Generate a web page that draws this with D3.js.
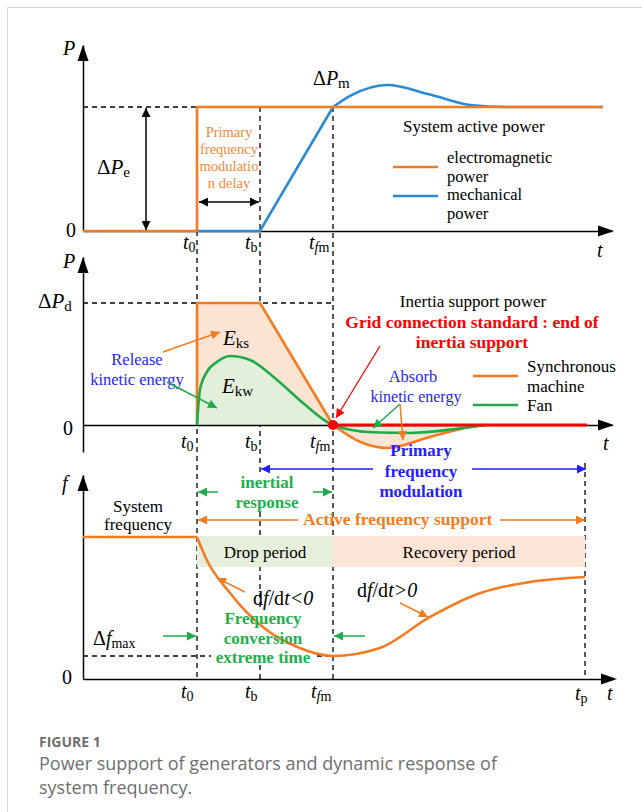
<!DOCTYPE html>
<html lang="en">
<head>
  <meta charset="utf-8">
  <title>Power support and frequency response</title>
  <script src="https://d3js.org/d3.v7.min.js"></script>
  <style>
    body { margin: 0; background: #fff; }
    svg text { font-family: "Liberation Serif", "Times New Roman", serif; }
    .cap { font-family: "Open Sans", "Noto Sans", sans-serif !important; }
  </style>
</head>
<body>
<script>
  // ---- key instants (time axis 0..100) ----
  var t0 = 21.55, tb = 33.46, tfm = 47.26, tp = 94.9, tEnd = 98.3;

  // top panel: system active power (per unit of ΔPe)
  var elecT = [0, t0, t0, tEnd];
  var elecP = [0, 0, 1, 1];
  var mechRampT = [t0, tb, tfm];
  var mechRampP = [0, 0, 1];
  var mechOverT = [tfm, 50.5, 57.5, 65.6, 73.2, 80, tEnd];
  var mechOverP = [1, 1.09, 1.177, 1.1, 1.016, 1.0, 1.0];

  // middle panel: inertia support power (per unit of ΔPd)
  var syncT = [t0, t0, tb, tfm];
  var syncP = [0, 1, 1, 0];
  var syncDipT = [tfm, 52.9, 57.5, 65.6, 73.2, 76];
  var syncDipP = [0, -0.148, -0.189, -0.098, -0.016, 0];
  var fanT = [t0, 22.1, 23.4, 25.3, 27.8, 31.6, 36.7, 41.6, tfm, 54.8, 62, 70, 76];
  var fanP = [0, 0.287, 0.434, 0.516, 0.566, 0.533, 0.369, 0.18, 0, -0.06, -0.065, -0.035, 0];
  var gridEndT = 95.3;

  // bottom panel: system frequency
  var fFlatT = [0, t0];
  var fFlatV = [1, 1];
  var fT = [t0, 23.4, 27.8, 29.7, 34.0, 40.5, tfm, 56.1, 65.6, 75.1, 84.5, tp];
  var fV = [1, 0.838, 0.606, 0.521, 0.366, 0.225, 0.162, 0.218, 0.437, 0.606, 0.683, 0.718];
  var dfMax = 0.162;

  var periods = [
    { name: 'Drop period', from: t0, to: tfm, fill: '#e6efdc' },
    { name: 'Recovery period', from: tfm, to: tp, fill: '#fce5d6' }
  ];

  var orange = '#f47b20', blue = '#2b8ad6', green = '#1fab4a', red = '#ff0000';
  var txtBlue = '#1f1fff', txtGreen = '#22b04b';

  var svg = d3.select('body').append('svg').attr('width', 642).attr('height', 812);
  var defs = svg.append('defs');

  svg.append('path').attr('d', 'M7.5,812V7.5H642').attr('fill', 'none').attr('stroke', '#d6d6d6');

  var x = d3.scaleLinear().domain([0, 100]).range([83, 612]);
  var yTop = d3.scaleLinear().domain([0, 1]).range([231, 107]);
  var yMid = d3.scaleLinear().domain([0, 1]).range([425, 303]);
  var yBot = d3.scaleLinear().domain([0, 1]).range([679, 537]);

  function zip(a, b) { return a.map(function(v, i) { return [v, b[i]]; }); }

  function marker(id, color, len, wid) {
    defs.append('marker').attr('id', id)
      .attr('viewBox', '0 0 10 10').attr('refX', 10).attr('refY', 5)
      .attr('markerWidth', len).attr('markerHeight', wid)
      .attr('markerUnits', 'userSpaceOnUse').attr('orient', 'auto-start-reverse')
      .append('path').attr('d', 'M0,0L10,5L0,10z').attr('fill', color);
  }
  marker('aBlack', '#000', 12, 9);
  marker('aOrange', orange, 12, 9);
  marker('aGreen', green, 12, 9);
  marker('aRed', red, 12, 9);
  marker('aBlue', txtBlue, 13, 9);

  function arrow(x1, y1, x2, y2, color, id, both, w) {
    var l = svg.append('line').attr('x1', x1).attr('y1', y1).attr('x2', x2).attr('y2', y2)
      .attr('stroke', color).attr('stroke-width', w || 1.5)
      .attr('marker-end', 'url(#' + id + ')');
    if (both) l.attr('marker-start', 'url(#' + id + ')');
  }

  function dashed(x1, y1, x2, y2) {
    svg.append('line').attr('x1', x1).attr('y1', y1).attr('x2', x2).attr('y2', y2)
      .attr('stroke', '#000').attr('stroke-width', 1.3).attr('stroke-dasharray', '5,4');
  }

  function txt(px, py, s, o) {
    o = o || {};
    return svg.append('text').attr('x', px).attr('y', py)
      .attr('font-size', o.size || 17)
      .attr('font-weight', o.bold ? 'bold' : 'normal')
      .attr('font-style', o.italic ? 'italic' : 'normal')
      .attr('fill', o.color || '#000')
      .attr('text-anchor', o.anchor || 'start')
      .text(s);
  }

  // symbol with optional delta prefix and subscript parts [[text, italic]]
  function sym(px, py, main, subs, o) {
    o = o || {};
    var t = svg.append('text').attr('x', px).attr('y', py).attr('font-size', o.size || 20);
    if (o.pre) t.append('tspan').text(o.pre);
    t.append('tspan').attr('font-style', 'italic').text(main);
    (subs || []).forEach(function(s, i) {
      var ts = t.append('tspan').attr('font-size', o.subSize || 14)
        .attr('font-style', s[1] ? 'italic' : 'normal').text(s[0]);
      if (i === 0) ts.attr('dy', o.dy || 3);
    });
    return t;
  }

  // ---- dashed guides ----
  dashed(x(0), yTop(1), x(t0), yTop(1));
  dashed(x(t0), yTop(0), x(t0), yBot(0));
  dashed(x(tb), yTop(1), x(tb), yBot(0));
  dashed(x(tfm), yTop(1), x(tfm), yBot(0));
  dashed(x(tp), 463, x(tp), yBot(0));
  dashed(x(0), yMid(1), x(tfm), yMid(1));
  dashed(x(0), yBot(dfMax), x(tfm), yBot(dfMax));

  // ---- fills ----
  var areaMid = function(curve) {
    return d3.area().x(function(d) { return x(d[0]); })
      .y0(yMid(0)).y1(function(d) { return yMid(d[1]); }).curve(curve);
  };
  svg.append('path').datum(zip(syncT, syncP)).attr('d', areaMid(d3.curveLinear)).attr('fill', '#fce4d4');
  svg.append('path').datum(zip(syncDipT, syncDipP)).attr('d', areaMid(d3.curveMonotoneX)).attr('fill', '#fce4d4');
  svg.append('path').datum(zip(fanT, fanP)).attr('d', areaMid(d3.curveMonotoneX)).attr('fill', '#e2efda');

  svg.selectAll('.period').data(periods).enter().append('rect')
    .attr('class', 'period')
    .attr('x', function(d) { return x(d.from); })
    .attr('width', function(d) { return x(d.to) - x(d.from); })
    .attr('y', yBot(1) - 1).attr('height', 31)
    .attr('fill', function(d) { return d.fill; });
  svg.selectAll('.ptext').data(periods).enter().append('text')
    .attr('class', 'ptext')
    .attr('x', function(d) { return (x(d.from) + x(d.to)) / 2; })
    .attr('y', 558).attr('text-anchor', 'middle').attr('font-size', 17)
    .text(function(d) { return d.name; });

  // white boxes behind annotation text
  svg.append('rect').attr('x', 237).attr('y', 474).attr('width', 60).attr('height', 34).attr('fill', '#fff');
  svg.append('rect').attr('x', 211).attr('y', 609).attr('width', 104).attr('height', 52).attr('fill', '#fff');

  // ---- axes ----
  function xAxis(yScale, tipX) {
    var g = svg.append('g').attr('transform', 'translate(0,' + yScale(0) + ')')
      .call(d3.axisBottom(x).tickValues([]).tickSizeOuter(0));
    g.select('.domain').attr('stroke-width', 1.5);
    var y0 = yScale(0);
    svg.append('path').attr('d', 'M' + tipX + ',' + y0 + 'L' + (tipX - 16) + ',' + (y0 - 5.5) + 'L' + (tipX - 16) + ',' + (y0 + 5.5) + 'Z');
  }
  function yAxis(lo, hi, yScale) {
    var s = d3.scaleLinear().domain([lo, hi]).range([yScale(lo), yScale(hi)]);
    var g = svg.append('g').attr('transform', 'translate(' + x(0) + ',0)')
      .call(d3.axisLeft(s).tickValues([]).tickSizeOuter(0));
    g.select('.domain').attr('stroke-width', 1.5);
    var tip = yScale(hi), x0 = x(0);
    svg.append('path').attr('d', 'M' + x0 + ',' + tip + 'L' + (x0 - 5.5) + ',' + (tip + 16) + 'L' + (x0 + 5.5) + ',' + (tip + 16) + 'Z');
  }
  xAxis(yTop, 614); yAxis(0, 1.5, yTop);
  xAxis(yMid, 614); yAxis(-0.221, 1.377, yMid);
  xAxis(yBot, 617); yAxis(0, 1.437, yBot);

  // ---- curves ----
  function line(yScale, curve) {
    return d3.line().x(function(d) { return x(d[0]); }).y(function(d) { return yScale(d[1]); }).curve(curve);
  }
  function draw(data, yScale, curve, color) {
    svg.append('path').datum(data).attr('d', line(yScale, curve)).attr('fill', 'none')
      .attr('stroke', color).attr('stroke-width', 2.6);
  }
  draw(zip(mechRampT, mechRampP), yTop, d3.curveLinear, blue);
  draw(zip(mechOverT, mechOverP), yTop, d3.curveMonotoneX, blue);
  draw(zip(elecT, elecP), yTop, d3.curveLinear, orange);

  draw(zip(syncT, syncP), yMid, d3.curveLinear, orange);
  draw(zip(syncDipT, syncDipP), yMid, d3.curveMonotoneX, orange);
  draw(zip(fanT, fanP), yMid, d3.curveMonotoneX, green);
  svg.append('line').attr('x1', x(tfm)).attr('x2', x(gridEndT)).attr('y1', yMid(0)).attr('y2', yMid(0))
    .attr('stroke', red).attr('stroke-width', 3);
  svg.append('circle').attr('cx', x(tfm)).attr('cy', yMid(0)).attr('r', 5).attr('fill', red);

  draw(zip(fFlatT, fFlatV), yBot, d3.curveLinear, orange);
  draw(zip(fT, fV), yBot, d3.curveMonotoneX, orange);

  // ---- axis labels ----
  sym(63, 55, 'P'); txt(66, 237, '0', { size: 20 });
  sym(63, 268, 'P'); txt(63, 435, '0', { size: 20 });
  sym(62, 490, 'f'); txt(62, 684, '0', { size: 20 });
  sym(597, 257, 't'); sym(603, 450, 't'); sym(607, 700, 't');

  [[249, 183, 245, 309], [448, 181, 245, 310], [698, 181, 245, 311]].forEach(function(r) {
    sym(r[1], r[0], 't', [['0', false]]);
    sym(r[2], r[0], 't', [['b', false]]);
    sym(r[3], r[0], 't', [['f', true], ['m', false]]);
  });
  sym(575, 700, 't', [['p', false]]);

  sym(97, 174, 'P', [['e', false]], { pre: 'Δ', size: 21, subSize: 15 });
  sym(313, 85, 'P', [['m', false]], { pre: 'Δ', size: 20, subSize: 15 });
  sym(38, 308, 'P', [['d', false]], { pre: 'Δ', size: 21, subSize: 15 });
  sym(93, 645, 'f', [['max', false]], { pre: 'Δ', size: 20, subSize: 14 });
  sym(223, 345, 'E', [['ks', false]], { size: 21, subSize: 15 });
  sym(222, 393, 'E', [['kw', false]], { size: 21, subSize: 15 });

  // ---- top panel annotations ----
  arrow(146, 108, 146, 230, '#000', 'aBlack', true, 1.5);
  arrow(199, 202, 259, 202, '#000', 'aBlack', true, 1.5);
  ['Primary', 'frequency', 'modulatio', 'n delay'].forEach(function(s, i) {
    txt(229, 137 + i * 17, s, { size: 14.5, color: '#f5893a', anchor: 'middle' });
  });
  txt(403, 132, 'System active power');
  svg.append('line').attr('x1', 393).attr('x2', 438).attr('y1', 167).attr('y2', 167).attr('stroke', orange).attr('stroke-width', 2.6);
  svg.append('line').attr('x1', 393).attr('x2', 438).attr('y1', 196).attr('y2', 196).attr('stroke', blue).attr('stroke-width', 2.6);
  txt(447, 163, 'electromagnetic', { size: 16.5 });
  txt(447, 182, 'power', { size: 16.5 });
  txt(447, 200, 'mechanical', { size: 16.5 });
  txt(447, 219, 'power', { size: 16.5 });

  // ---- middle panel annotations ----
  txt(137, 365, 'Release', { size: 16.5, color: txtBlue, anchor: 'middle' });
  txt(137, 385, 'kinetic energy', { size: 16.5, color: txtBlue, anchor: 'middle' });
  arrow(163, 352, 220, 332, orange, 'aOrange', false, 1.5);
  arrow(167, 382, 217, 408, green, 'aGreen', false, 1.5);

  txt(473, 307, 'Inertia support power', { anchor: 'middle' });
  txt(472, 328, 'Grid connection standard : end of', { size: 17.5, bold: true, color: red, anchor: 'middle' });
  txt(472, 348, 'inertia support', { size: 17.5, bold: true, color: red, anchor: 'middle' });
  arrow(380, 346, 336, 418, red, 'aRed', false, 1.3);

  txt(413, 382, 'Absorb', { size: 16.5, color: txtBlue, anchor: 'middle' });
  txt(416, 402, 'kinetic energy', { size: 16, color: txtBlue, anchor: 'middle' });
  arrow(400, 404, 373, 428, green, 'aGreen', false, 1.5);
  arrow(400, 404, 403, 440, orange, 'aOrange', false, 1.5);

  svg.append('line').attr('x1', 473).attr('x2', 518).attr('y1', 376).attr('y2', 376).attr('stroke', orange).attr('stroke-width', 2.6);
  svg.append('line').attr('x1', 473).attr('x2', 518).attr('y1', 405).attr('y2', 405).attr('stroke', green).attr('stroke-width', 2.6);
  txt(527, 372, 'Synchronous');
  txt(527, 392, 'machine');
  txt(527, 411, 'Fan');

  txt(421, 456, 'Primary', { bold: true, color: txtBlue, anchor: 'middle' });
  txt(421, 477, 'frequency', { bold: true, color: txtBlue, anchor: 'middle' });
  txt(421, 497, 'modulation', { bold: true, color: txtBlue, anchor: 'middle' });
  arrow(373, 469, x(tb) + 1, 469, txtBlue, 'aBlue', false, 1.5);
  arrow(472, 469, x(tp) + 1, 469, txtBlue, 'aBlue', false, 1.5);

  // ---- bottom panel annotations ----
  txt(267, 488, 'inertial', { bold: true, color: txtGreen, anchor: 'middle' });
  txt(267, 508, 'response', { bold: true, color: txtGreen, anchor: 'middle' });
  arrow(218, 492, x(t0) + 1, 492, green, 'aGreen', false, 1.5);
  arrow(313, 492, x(tfm) - 1, 492, green, 'aGreen', false, 1.5);

  txt(138, 512, 'System', { anchor: 'middle' });
  txt(138, 530, 'frequency', { anchor: 'middle' });

  txt(303, 525, 'Active frequency support', { size: 17.5, bold: true, color: orange });
  arrow(298, 520, x(t0) + 1, 520, orange, 'aOrange', false, 1.5);
  arrow(500, 520, x(tp), 520, orange, 'aOrange', false, 1.5);

  function dfdt(px, py, sign) {
    var t = svg.append('text').attr('x', px).attr('y', py).attr('font-size', 20);
    t.append('tspan').text('d');
    t.append('tspan').attr('font-style', 'italic').text('f');
    t.append('tspan').text('/d');
    t.append('tspan').attr('font-style', 'italic').text('t' + sign + '0');
  }
  dfdt(253, 605, '<');
  dfdt(357, 597, '>');
  arrow(245, 592, 217, 578, orange, 'aOrange', false, 1.5);
  arrow(400, 603, 428, 617, orange, 'aOrange', false, 1.5);

  ['Frequency', 'conversion', 'extreme time'].forEach(function(s, i) {
    txt(263, 624 + i * 19.5, s, { bold: true, color: txtGreen, anchor: 'middle' });
  });
  arrow(163, 636, x(t0) - 1, 636, green, 'aGreen', false, 1.5);
  arrow(365, 636, x(tfm) + 1, 636, green, 'aGreen', false, 1.5);

  // ---- caption ----
  svg.append('text').attr('class', 'cap').attr('x', 39).attr('y', 747)
    .attr('font-size', 14).attr('font-weight', 'bold').attr('fill', '#6f6f6f').text('FIGURE 1');
  svg.append('text').attr('class', 'cap').attr('x', 39).attr('y', 770)
    .attr('font-size', 18).attr('fill', '#6f6f6f').text('Power support of generators and dynamic response of');
  svg.append('text').attr('class', 'cap').attr('x', 39).attr('y', 794)
    .attr('font-size', 18).attr('fill', '#6f6f6f').text('system frequency.');
</script>
</body>
</html>
